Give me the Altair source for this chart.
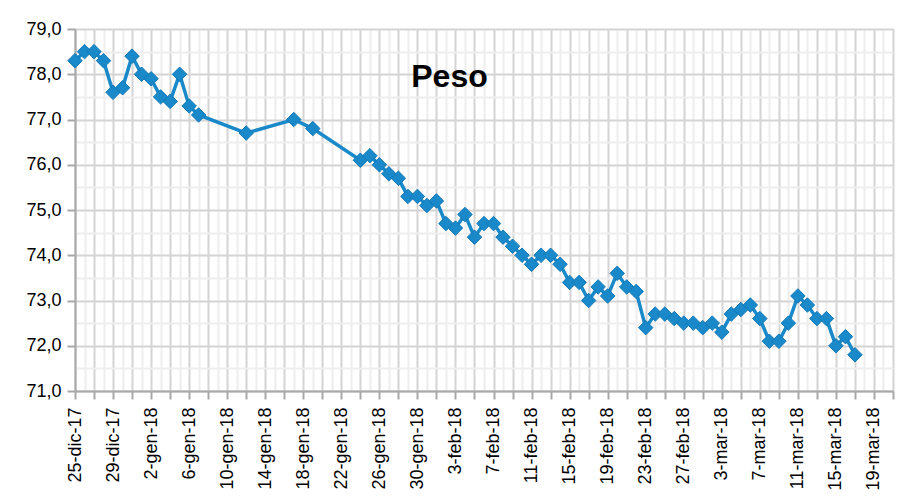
import altair as alt
import pandas as pd

dates = [
    "2017-12-25", "2017-12-26", "2017-12-27", "2017-12-28", "2017-12-29", "2017-12-30", "2017-12-31",
    "2018-01-01", "2018-01-02", "2018-01-03", "2018-01-04", "2018-01-05", "2018-01-06", "2018-01-07",
    "2018-01-12", "2018-01-17", "2018-01-19",
    "2018-01-24", "2018-01-25", "2018-01-26", "2018-01-27", "2018-01-28", "2018-01-29", "2018-01-30", "2018-01-31",
    "2018-02-01", "2018-02-02", "2018-02-03", "2018-02-04", "2018-02-05", "2018-02-06", "2018-02-07",
    "2018-02-08", "2018-02-09", "2018-02-10", "2018-02-11", "2018-02-12", "2018-02-13", "2018-02-14",
    "2018-02-15", "2018-02-16", "2018-02-17", "2018-02-18", "2018-02-19", "2018-02-20", "2018-02-21",
    "2018-02-22", "2018-02-23", "2018-02-24", "2018-02-25", "2018-02-26", "2018-02-27", "2018-02-28",
    "2018-03-01", "2018-03-02", "2018-03-03", "2018-03-04", "2018-03-05", "2018-03-06", "2018-03-07",
    "2018-03-08", "2018-03-09", "2018-03-10", "2018-03-11", "2018-03-12", "2018-03-13", "2018-03-14",
    "2018-03-15", "2018-03-16", "2018-03-17",
]
peso = [
    78.3, 78.5, 78.5, 78.3, 77.6, 77.7, 78.4,
    78.0, 77.9, 77.5, 77.4, 78.0, 77.3, 77.1,
    76.7, 77.0, 76.8,
    76.1, 76.2, 76.0, 75.8, 75.7, 75.3, 75.3, 75.1,
    75.2, 74.7, 74.6, 74.9, 74.4, 74.7, 74.7,
    74.4, 74.2, 74.0, 73.8, 74.0, 74.0, 73.8,
    73.4, 73.4, 73.0, 73.3, 73.1, 73.6, 73.3,
    73.2, 72.4, 72.7, 72.7, 72.6, 72.5, 72.5,
    72.4, 72.5, 72.3, 72.7, 72.8, 72.9, 72.6,
    72.1, 72.1, 72.5, 73.1, 72.9, 72.6, 72.6,
    72.0, 72.2, 71.8,
]
months_it = ["gen", "feb", "mar", "apr", "mag", "giu", "lug", "ago", "set", "ott", "nov", "dic"]
title_text = "Peso"

df = pd.DataFrame({"data": dates, "peso": peso})

start = pd.Timestamp("2017-12-25", tz="UTC")
end = pd.Timestamp("2018-03-21", tz="UTC")
t0 = int(start.timestamp() * 1000)
day_ms = 86400000
x_vals = [int(t.timestamp() * 1000) for t in pd.date_range(start, end, freq="D")]
y_vals = [71 + 0.5 * i for i in range(17)]

FONT = "Liberation Sans"
COLOR = "#1a89c9"
AXIS_GRAY = "#a8a8a8"

month_arr = "[" + ",".join("'%s'" % m for m in months_it) + "]"
day_idx = f"round((datum.value - {t0}) / {day_ms})"
x_label_expr = (
    f"{day_idx} % 4 === 0 ? utcdate(datum.value) + '-' + {month_arr}[utcmonth(datum.value)]"
    f" + '-' + utcFormat(datum.value, '%y') : ''"
)

x_axis = alt.Axis(
    values=x_vals,
    labelExpr=x_label_expr,
    labelAngle=-90,
    labelAlign="right",
    labelBaseline="middle",
    labelFont=FONT,
    labelFontSize=18,
    labelColor="#000000",
    labelPadding=8,
    labelOverlap=False,
    labelFlush=False,
    tickSize=8,
    tickWidth=2,
    tickColor=AXIS_GRAY,
    tickOpacity={"condition": {"test": f"{day_idx} % 2 === 0", "value": 1}, "value": 0},
    domainColor=AXIS_GRAY,
    domainWidth=2,
    grid=True,
    gridColor={"condition": {"test": f"{day_idx} % 2 === 0", "value": "#d4d4d4"}, "value": "#eeeeee"},
    gridWidth=2,
    title=None,
)

y_axis = alt.Axis(
    values=y_vals,
    labelExpr="datum.value % 1 === 0 ? replace(format(datum.value, '.1f'), '.', ',') : ''",
    labelFont=FONT,
    labelFontSize=18,
    labelColor="#000000",
    labelPadding=6,
    labelOverlap=False,
    labelFlush=False,
    tickSize=8,
    tickWidth=2,
    tickColor=AXIS_GRAY,
    tickOpacity={"condition": {"test": "datum.value % 1 === 0", "value": 1}, "value": 0},
    domainColor=AXIS_GRAY,
    domainWidth=2,
    grid=True,
    gridColor={"condition": {"test": "datum.value % 1 === 0", "value": "#d4d4d4"}, "value": "#eeeeee"},
    gridWidth=2,
    title=None,
)

x_enc = alt.X("data:T", scale=alt.Scale(type="utc", domain=[t0, x_vals[-1]]), axis=x_axis)
y_enc = alt.Y("peso:Q", scale=alt.Scale(domain=[71, 79], zero=False, nice=False), axis=y_axis)

base = alt.Chart(df).encode(x=x_enc, y=y_enc)
line = base.mark_line(color=COLOR, strokeWidth=3.5)
points = base.mark_point(
    shape="diamond", filled=True, size=210, color=COLOR, stroke="#1479b8", strokeWidth=1, opacity=1
)

title = alt.Chart(pd.DataFrame({"t": [title_text]})).mark_text(
    font=FONT, fontSize=32, fontWeight="bold", color="#000000", align="center", baseline="alphabetic"
).encode(text="t:N", x=alt.value(374.5), y=alt.value(57.5))

chart = alt.layer(line, points, title).properties(
    width=818,
    height=362,
    autosize=alt.AutoSizeParams(type="none"),
    padding={"left": 67, "top": 21, "right": 4, "bottom": 100},
).configure_view(stroke=None).configure(background="#ffffff")

chart.save("out.html", embed_options={"renderer": "svg", "actions": False})
